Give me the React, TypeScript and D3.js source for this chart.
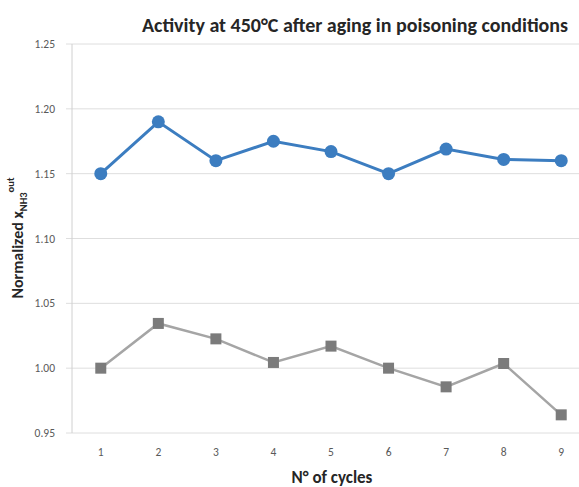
import * as d3 from 'd3'

const cycles = ['1', '2', '3', '4', '5', '6', '7', '8', '9']
const activityBlue = [1.15, 1.19, 1.16, 1.175, 1.167, 1.15, 1.169, 1.161, 1.16]
const activityGray = [1.0, 1.0345, 1.0226, 1.0044, 1.017, 1.0, 0.9856, 1.0036, 0.964]
const yTickValues = [0.95, 1.0, 1.05, 1.1, 1.15, 1.2, 1.25]

const font = "Carlito, 'Open Sans', 'Liberation Sans', sans-serif"

export default function App() {
  const width = 579
  const height = 487
  const margin = { top: 44, right: -11, bottom: 54, left: 72 }

  const xScale = d3
    .scaleBand<string>()
    .domain(cycles)
    .range([margin.left, width - margin.right])
    .padding(0)

  const yScale = d3
    .scaleLinear()
    .domain([0.95, 1.25])
    .range([height - margin.bottom, margin.top])

  const xPos = (c: string) => (xScale(c) ?? 0) + xScale.bandwidth() / 2

  const line = d3
    .line<number>()
    .x((_, i) => xPos(cycles[i]))
    .y((d) => yScale(d))

  const blue = '#3c7dc0'
  const grayLine = '#a5a5a5'
  const grayMarker = '#7b7b7b'

  return (
    <svg
      width={width}
      height={height}
      style={{ position: 'absolute', left: 0, top: 0, background: '#fff', fontFamily: font }}
    >
      <text x={355} y={32} textAnchor="middle" fontSize={20} fontWeight={700} fill="#262626">
        Activity at 450°C after aging in poisoning conditions
      </text>

      {yTickValues.map((tick) => (
        <g key={tick}>
          <line
            x1={margin.left - 6}
            x2={width}
            y1={yScale(tick)}
            y2={yScale(tick)}
            stroke="#dedede"
            strokeWidth={1}
          />
          <text
            x={55}
            y={yScale(tick)}
            dy="0.35em"
            textAnchor="end"
            fontSize={11.5}
            fill="#595959"
          >
            {tick.toFixed(2)}
          </text>
        </g>
      ))}

      <line
        x1={margin.left}
        x2={margin.left}
        y1={yScale(1.25)}
        y2={yScale(0.95)}
        stroke="#d0d0d0"
        strokeWidth={1}
      />

      {cycles.map((c) => (
        <text key={c} x={xPos(c)} y={456} textAnchor="middle" fontSize={11.5} fill="#595959">
          {c}
        </text>
      ))}

      <text x={332} y={483} textAnchor="middle" fontSize={17} fontWeight={700} fill="#262626">
        N° of cycles
      </text>

      <text
        transform={`translate(23, 238) rotate(-90)`}
        textAnchor="middle"
        fontSize={16}
        fontWeight={700}
        fill="#262626"
      >
        Normalized x
        <tspan fontSize={10.5} dy={4}>NH3</tspan>
        <tspan fontSize={10.5} dy={-13}>out</tspan>
      </text>

      <path d={line(activityGray) ?? ''} fill="none" stroke={grayLine} strokeWidth={2.5} />
      {activityGray.map((v, i) => (
        <rect
          key={`g-${i}`}
          x={xPos(cycles[i]) - 5.5}
          y={yScale(v) - 5.5}
          width={11}
          height={11}
          fill={grayMarker}
        />
      ))}

      <path d={line(activityBlue) ?? ''} fill="none" stroke={blue} strokeWidth={3} />
      {activityBlue.map((v, i) => (
        <circle key={`b-${i}`} cx={xPos(cycles[i])} cy={yScale(v)} r={6.5} fill={blue} />
      ))}
    </svg>
  )
}
